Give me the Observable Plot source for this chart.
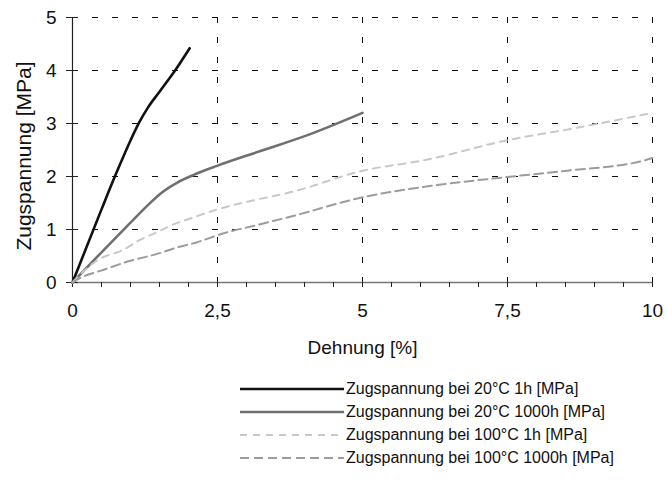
<!DOCTYPE html>
<html>
<head>
<meta charset="utf-8">
<script src="https://cdn.jsdelivr.net/npm/d3@7"></script>
<script src="https://cdn.jsdelivr.net/npm/@observablehq/plot@0.6"></script>
<style>
  html, body { margin: 0; padding: 0; background: #fff; }
  body { width: 667px; height: 497px; overflow: hidden; font-family: "Liberation Sans", Arial, sans-serif; color: #111; }
  #legend { padding-top: 12px; padding-left: 240px; }
  .row { display: flex; align-items: center; height: 23px; font-size: 16px; }
  .row svg { width: 104px; height: 10px; margin-right: 2px; }
</style>
</head>
<body>
<div id="chart"></div>
<div id="legend"></div>
<script>
// Series names
const seriesNames = [
  "Zugspannung bei 20°C 1h [MPa]",
  "Zugspannung bei 20°C 1000h [MPa]",
  "Zugspannung bei 100°C 1h [MPa]",
  "Zugspannung bei 100°C 1000h [MPa]"
];
// 20°C 1h
const s1x = [0, 0.5, 0.75, 1.0, 1.15, 1.3, 1.5, 1.75, 2.02];
const s1y = [0, 1.38, 2.05, 2.68, 3.02, 3.3, 3.6, 3.97, 4.42];
// 20°C 1000h
const s2x = [0, 0.5, 1.0, 1.3, 1.52, 1.8, 2.09, 2.49, 3.24, 4.10, 5.0];
const s2y = [0, 0.57, 1.13, 1.46, 1.68, 1.88, 2.03, 2.2, 2.48, 2.8, 3.2];
// 100°C 1h
const s3x = [0, 0.2, 0.43, 0.88, 1.14, 1.46, 1.75, 2.09, 2.5, 3.0, 3.82, 4.97, 6.12, 7.48, 8.7, 10];
const s3y = [0, 0.22, 0.42, 0.62, 0.79, 0.95, 1.10, 1.23, 1.38, 1.52, 1.72, 2.1, 2.32, 2.68, 2.92, 3.2];
// 100°C 1000h
const s4x = [0, 0.2, 0.48, 1.0, 1.46, 1.8, 2.15, 2.55, 3.24, 3.82, 4.97, 6.23, 7.49, 8.53, 9.85, 10];
const s4y = [0, 0.12, 0.22, 0.41, 0.54, 0.66, 0.76, 0.91, 1.10, 1.26, 1.60, 1.83, 1.99, 2.11, 2.30, 2.35];

// Ticks
const xTicksMajor = [0, 2.5, 5, 7.5, 10];
const xTickLabels = ["0", "2,5", "5", "7,5", "10"];
const xTicksMinor = [0, 0.5, 1, 1.5, 2, 2.5, 3, 3.5, 4, 4.5, 5, 5.5, 6, 6.5, 7, 7.5, 8, 8.5, 9, 9.5, 10];
const yTicks = [0, 1, 2, 3, 4, 5];
const yTickLabels = ["0", "1", "2", "3", "4", "5"];
const xTitle = "Dehnung [%]";
const yTitle = "Zugspannung [MPa]";

const styles = [
  {stroke: "#111", strokeWidth: 2.6, dash: null},
  {stroke: "#707070", strokeWidth: 2.6, dash: null},
  {stroke: "#c8c8c8", strokeWidth: 2, dash: "7,6"},
  {stroke: "#9c9c9c", strokeWidth: 2, dash: "9,5"}
];

const toRows = (xs, ys) => xs.map((x, i) => ({x, y: ys[i]}));
const series = [toRows(s1x, s1y), toRows(s2x, s2y), toRows(s3x, s3y), toRows(s4x, s4y)];

const lineMarks = series.map((d, i) => Plot.line(d, {
  x: "x", y: "y", stroke: styles[i].stroke, strokeWidth: styles[i].strokeWidth,
  strokeDasharray: styles[i].dash, curve: "monotone-x"
}));

const chart = Plot.plot({
  width: 667, height: 365,
  marginLeft: 72, marginRight: 15, marginTop: 17, marginBottom: 83,
  x: {domain: [0, 10]},
  y: {domain: [0, 5]},
  style: {fontFamily: "Liberation Sans, Arial, sans-serif", color: "#111", background: "#fff"},
  marks: [
    Plot.gridX(xTicksMajor.slice(1), {stroke: "#111", strokeOpacity: 1, strokeWidth: 1, strokeDasharray: "6,14"}),
    Plot.gridY(yTicks.slice(1), {stroke: "#111", strokeOpacity: 1, strokeWidth: 1, strokeDasharray: "6,14"}),
    Plot.ruleY([0], {stroke: "#777", strokeWidth: 1.5}),
    Plot.ruleX([0], {stroke: "#222", strokeWidth: 1.2}),
    Plot.axisX(xTicksMinor, {tickSize: 5, tickFormat: () => "", label: null, stroke: "#222"}),
    Plot.axisX(xTicksMajor, {tickSize: 0, tickPadding: 21, fontSize: 19, label: null,
      tickFormat: d => xTickLabels[xTicksMajor.indexOf(d)]}),
    Plot.axisY(yTicks, {tickSize: 12, dx: 6, tickFormat: () => "", label: null, stroke: "#222"}),
    Plot.axisY(yTicks, {tickSize: 0, tickPadding: 16, fontSize: 19, label: null,
      tickFormat: d => yTickLabels[yTicks.indexOf(d)]}),
    Plot.text([xTitle], {frameAnchor: "bottom", dy: 71, fontSize: 19, fill: "#111"}),
    Plot.text([yTitle], {frameAnchor: "left", textAnchor: "middle", dx: -48, dy: 6, rotate: -90, fontSize: 21, fill: "#111"}),
    ...lineMarks
  ]
});
document.getElementById("chart").append(chart);

// Legend
const legend = document.getElementById("legend");
seriesNames.forEach((name, i) => {
  const row = document.createElement("div");
  row.className = "row";
  const s = styles[i];
  row.innerHTML = `<svg viewBox="0 0 104 10"><line x1="0" y1="5" x2="104" y2="5" stroke="${s.stroke}" stroke-width="${s.strokeWidth}" ${s.dash ? `stroke-dasharray="${s.dash}"` : ""}/></svg><span>${name}</span>`;
  legend.append(row);
});
</script>
</body>
</html>
